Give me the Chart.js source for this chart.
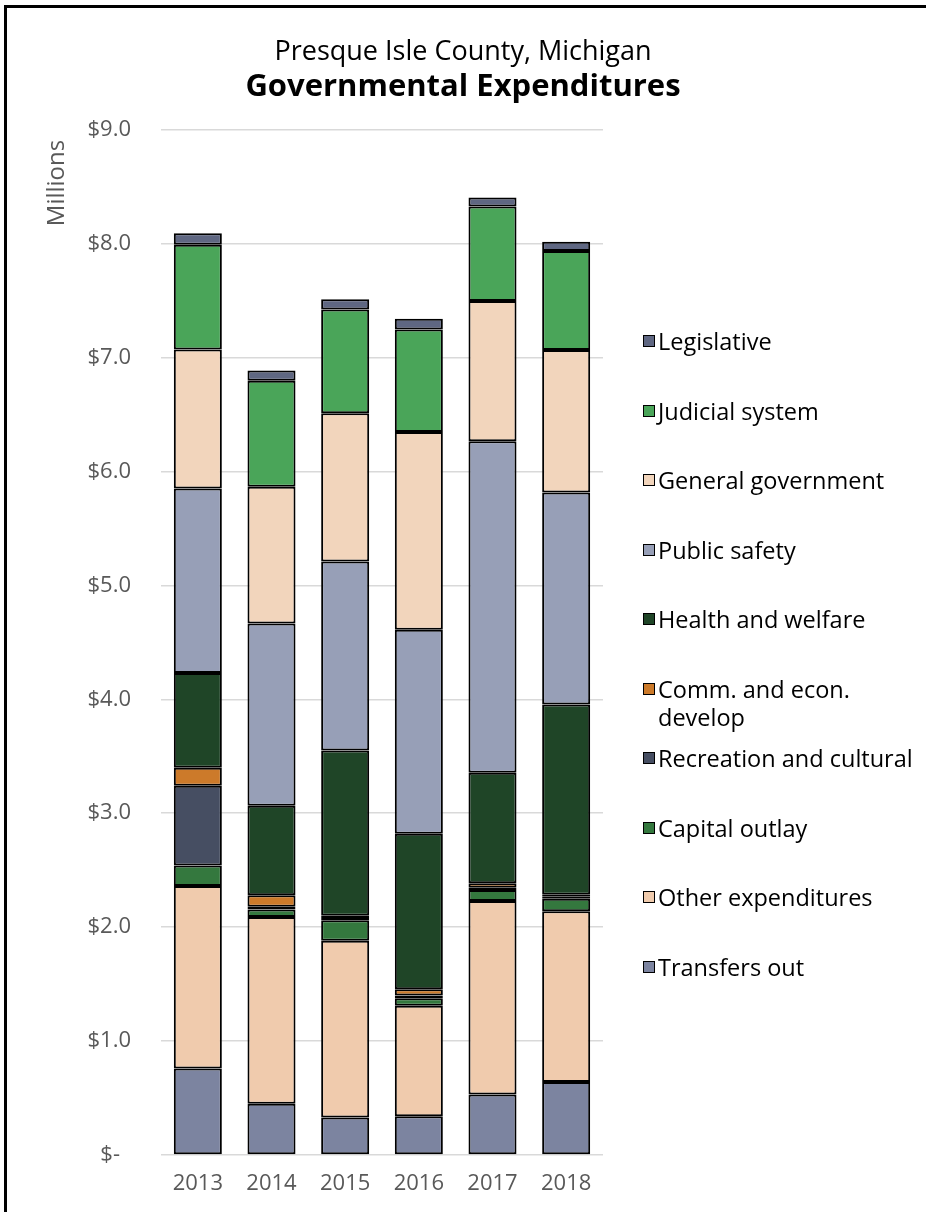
<!DOCTYPE html>
<html>
<head>
<meta charset="utf-8">
<script src="https://cdn.jsdelivr.net/npm/chart.js@4.4.0/dist/chart.umd.min.js"></script>
<style>
  html, body { margin: 0; padding: 0; background: #fff; }
  body { width: 926px; height: 1212px; position: relative; overflow: hidden; font-family: "Open Sans", sans-serif; }
  #frame { position: absolute; left: 4px; top: 5px; width: 960px; height: 1260px; border-left: 3px solid #000; border-top: 3px solid #000; }
  #wrap { position: absolute; left: 0; top: 0; width: 926px; height: 1212px; }
  #legend { position: absolute; left: 643px; top: 0; width: 283px; height: 1212px; }
  .item { position: absolute; left: 0; display: flex; align-items: flex-start; font-size: 23.5px; line-height: 28px; color: #000; }
  .box { flex: none; width: 10px; height: 10px; border: 1.5px solid #000; margin-top: 8px; margin-right: 3px; }
  .txt { width: 264px; }
</style>
</head>
<body>
<div id="frame"></div>
<div id="wrap"><canvas id="barChart"></canvas></div>
<div id="legend"></div>
<script>
const years = ["2013", "2014", "2015", "2016", "2017", "2018"];
const yTicks = [0, 1, 2, 3, 4, 5, 6, 7, 8, 9];

// millions of dollars, bottom of the stack first
const transfersOut = [0.76, 0.45, 0.33, 0.34, 0.53, 0.64];
const otherExpenditures = [1.60, 1.64, 1.55, 0.97, 1.70, 1.50];
const capitalOutlay = [0.18, 0.065, 0.18, 0.065, 0.095, 0.11];
const recreationCultural = [0.70, 0.025, 0.02, 0.025, 0.02, 0.02];
const commEconDevelop = [0.16, 0.10, 0.02, 0.055, 0.04, 0.015];
const healthWelfare = [0.83, 0.785, 1.45, 1.365, 0.97, 1.67];
const publicSafety = [1.62, 1.60, 1.66, 1.79, 2.91, 1.86];
const generalGovernment = [1.22, 1.20, 1.30, 1.735, 1.23, 1.25];
const judicialSystem = [0.92, 0.93, 0.91, 0.90, 0.83, 0.87];
const legislative = [0.10, 0.09, 0.09, 0.095, 0.08, 0.08];

const FONT = "'Open Sans', sans-serif";

const series = [
  { label: "Transfers out", data: transfersOut, color: "#7c84a0" },
  { label: "Other expenditures", data: otherExpenditures, color: "#f0cbad" },
  { label: "Capital outlay", data: capitalOutlay, color: "#34783e" },
  { label: "Recreation and cultural", data: recreationCultural, color: "#464e62" },
  { label: "Comm. and econ. develop", data: commEconDevelop, color: "#cc7a2a" },
  { label: "Health and welfare", data: healthWelfare, color: "#1f4527" },
  { label: "Public safety", data: publicSafety, color: "#979fb7" },
  { label: "General government", data: generalGovernment, color: "#f2d5bc" },
  { label: "Judicial system", data: judicialSystem, color: "#4aa559" },
  { label: "Legislative", data: legislative, color: "#5f6782" },
];

// "Millions" sits at the top of the value axis, like Excel does it
const axisTitle = {
  id: "axisTitle",
  afterDraw(chart) {
    const c = chart.ctx;
    c.save();
    c.translate(57, 183);
    c.rotate(-Math.PI / 2);
    c.font = "24px " + FONT;
    c.fillStyle = "#595959";
    c.textAlign = "center";
    c.textBaseline = "middle";
    c.fillText("Millions", 0, 0);
    c.restore();
  },
};

const ctx = document.getElementById("barChart");

const barChart = new Chart(ctx, {
  type: "bar",
  data: {
    labels: years,
    datasets: series.map((s) => ({
      label: s.label,
      data: s.data,
      backgroundColor: s.color,
      borderColor: "#000",
      borderWidth: 2,
      borderSkipped: false,
      inflateAmount: 0,
      barPercentage: 0.652,
      categoryPercentage: 1,
    })),
  },
  options: {
    responsive: true,
    maintainAspectRatio: false,
    animation: false,
    devicePixelRatio: 1,
    layout: { padding: 0 },
    plugins: {
      legend: { display: false },
      tooltip: { enabled: false },
      title: {
        display: true,
        text: "Presque Isle County, Michigan",
        color: "#000",
        font: { family: FONT, size: 27, weight: "normal" },
        padding: { top: 36, bottom: 0 },
      },
      subtitle: {
        display: true,
        text: "Governmental Expenditures",
        color: "#000",
        font: { family: FONT, size: 31, weight: "bold" },
        padding: { top: 0, bottom: 24 },
      },
    },
    scales: {
      x: {
        stacked: true,
        grid: { display: false },
        border: { display: false },
        ticks: { color: "#595959", font: { family: FONT, size: 22 }, padding: 8 },
        afterFit: (s) => { s.height = 57; },
      },
      y: {
        stacked: true,
        min: 0,
        max: 9,
        afterBuildTicks: (s) => { s.ticks = yTicks.map((v) => ({ value: v })); },
        grid: { color: "#d9d9d9", lineWidth: 1.5, drawTicks: false },
        border: { display: false },
        ticks: {
          color: "#595959",
          font: { family: FONT, size: 22 },
          padding: 30,
          callback: (v) => (v === 0 ? "$-\u2002" : "$" + v.toFixed(1)),
        },
        afterFit: (s) => { s.width = 161; },
      },
      // empty right-hand axis that keeps room for the legend
      side: {
        position: "right",
        grid: { display: false },
        border: { display: false },
        ticks: { display: false },
        afterFit: (s) => { s.width = 323; },
      },
    },
  },
  plugins: [axisTitle],
});

// legend on the right, top entry = top of the stack
const legendEl = document.getElementById("legend");
series.slice().reverse().forEach((s, i) => {
  const item = document.createElement("div");
  item.className = "item";
  item.style.top = (327 + i * 69.5) + "px";
  item.innerHTML = '<span class="box" style="background:' + s.color + '"></span><span class="txt">' + s.label + "</span>";
  legendEl.appendChild(item);
});
</script>
</body>
</html>
